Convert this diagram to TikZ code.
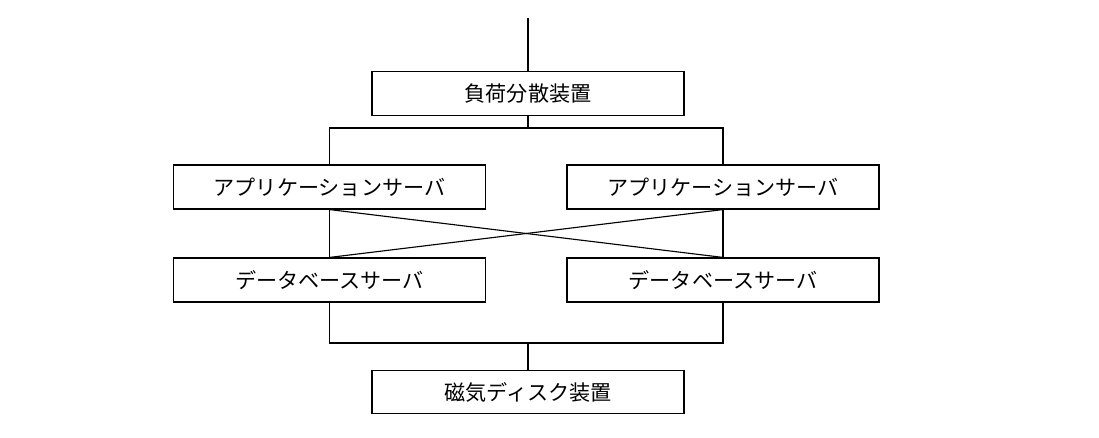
\documentclass[tikz,border=0pt]{standalone}
\usepackage{fontspec}
\newfontfamily\cjk{Noto Sans CJK JP}
\usetikzlibrary{positioning}
\begin{document}
\begin{tikzpicture}[x=0.025cm, y=-0.025cm,
    every node/.style={draw, thick, inner sep=0pt, font=\cjk\fontsize{15}{18}\selectfont},
    unit/.style={minimum width=7.8cm, minimum height=1.1cm},
    dev/.style={minimum width=7.8cm, minimum height=1.08cm}]
  \useasboundingbox (0,0) rectangle (1099,438);
  \node (lb) at (528,93.5) [dev] {負荷分散装置};
  \node (ap1) at (329.5,187) [unit] {アプリケーションサーバ};
  \node (ap2) at (723,187) [unit] {アプリケーションサーバ};
  \node (db1) at (329.5,280) [unit] {データベースサーバ};
  \node (db2) at (723,280) [unit] {データベースサーバ};
  \node (disk) at (528,392) [dev] {磁気ディスク装置};
  \coordinate (in) at (528,18);
  \coordinate (top) at (528,128);
  \coordinate (bot) at (528,343);
  \draw[thick] (in) -- (lb.north);
  \draw[thick] (lb.south) -- (top);
  \draw[thick] (ap1.north) |- (top) -| (ap2.north);
  \draw[thick] (db1.south) |- (bot) -| (db2.south);
  \draw[thick] (bot) -- (disk.north);
  \foreach \source/\dest in {ap1/db1, ap2/db2, ap1/db2, ap2/db1}
    \draw[thick] (\source.south) -- (\dest.north);
\end{tikzpicture}
\end{document}
